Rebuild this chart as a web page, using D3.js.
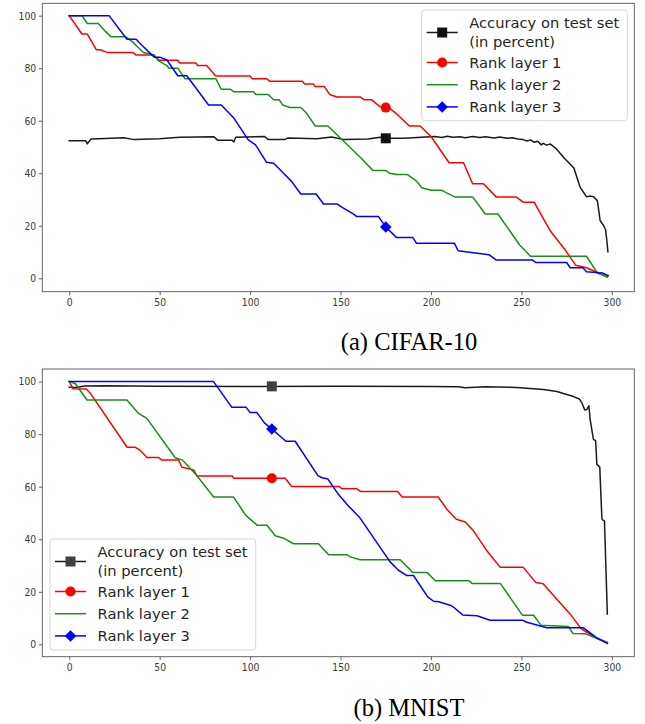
<!DOCTYPE html>
<html><head><meta charset="utf-8">
<script src="https://cdn.jsdelivr.net/npm/d3@7"></script>
<style>
body{margin:0;background:#fff;}
svg{display:block;}
</style></head><body>
<svg id="chart" width="645" height="724"></svg>
<script>
// ---------- DATA ----------
const xTicks = [0, 50, 100, 150, 200, 250, 300];
const yTicks = [0, 20, 40, 60, 80, 100];
const captions = ["(a) CIFAR-10", "(b) MNIST"];
const legendLabels = [["Accuracy on test set", "(in percent)"], ["Rank layer 1"], ["Rank layer 2"], ["Rank layer 3"]];

// CIFAR-10 panel
const cifarAccX = [0, 9, 10, 12, 20, 30, 36, 50, 61, 80, 82, 90, 91, 92, 108, 110, 119, 121, 137, 145, 152, 165, 172, 175, 185, 202, 206, 209, 212, 216, 219, 223, 227, 230, 235, 238, 242, 245, 248, 251, 253, 255, 257, 259, 261, 262, 264, 266, 269, 274, 279, 282.5, 286, 288, 290, 292, 293.5, 295.5, 296.5, 297.2, 297.8];
const cifarAccY = [52.4, 52.4, 51.2, 53, 53.2, 53.5, 52.8, 53.1, 53.7, 53.9, 52.6, 52.6, 51.9, 53.7, 54, 52.8, 52.8, 53.4, 53.1, 53.8, 52.8, 53, 53.7, 53.3, 53.3, 54, 53.6, 54.1, 53.7, 53.9, 53.5, 54, 53.6, 53.9, 53.4, 53.8, 53.3, 53.5, 53, 52.8, 52.3, 52.7, 51.8, 52.2, 50.8, 51.4, 50.7, 51.1, 49.5, 45.5, 42, 34.6, 31, 31.3, 31, 29.5, 22, 20, 18.5, 14.5, 10.1];
const cifarRank1X = [0, 7, 10, 15, 17, 21, 35, 37, 46, 48, 50, 60, 61, 70, 71, 76, 81, 100, 101, 109, 111, 129, 130, 135, 136, 141, 144, 148, 161, 163, 167, 172, 177, 182, 188, 194, 200, 210, 218, 223, 229, 236, 247, 251, 257, 266, 274, 280, 286, 291, 297.5];
const cifarRank1Y = [100, 93, 93, 87, 87, 86, 86, 85, 85, 84, 83, 83, 82, 82, 81, 81, 77, 77, 76, 76, 75, 75, 74, 74, 73, 73, 70, 69, 69, 68, 68, 65.3, 64.8, 62, 58, 58, 54, 44, 44, 36, 36, 31, 31, 29, 29, 18, 11, 5, 4, 2.5, 0.5];
const cifarRank2X = [0, 7, 10, 16, 20, 23, 31, 35, 38, 41, 47, 49, 54, 55, 60, 64, 81, 84, 89, 91, 102, 103, 110, 113, 116, 118, 122, 128, 131, 136, 143, 149, 155, 161, 168, 175, 177, 181, 187, 192, 195, 200, 206, 213, 223, 230, 237, 249, 255, 286, 292, 297.5];
const cifarRank2Y = [100, 100, 97, 97, 94, 92, 92, 90, 88, 86, 85, 83, 81, 80, 80, 76, 76, 72, 72, 71, 71, 70, 70, 68, 68, 66, 65, 65, 63, 58, 58, 54, 50, 46, 41, 41, 40, 39.5, 39.5, 37, 34.5, 33.5, 33.5, 31, 31, 24.5, 24.5, 12.7, 8.4, 8.4, 2, 0.5];
const cifarRank3X = [0, 22, 30, 32, 37, 39, 47, 50, 54, 60, 65, 77, 84, 91, 99, 103, 109, 113, 118.5, 123, 128, 136.5, 140.6, 148, 151.6, 157, 159, 171, 175, 181, 190, 192, 213, 215, 232, 236, 256, 258, 275, 277, 284, 286, 295, 298];
const cifarRank3Y = [100, 100, 92.7, 91, 91, 89.5, 84.2, 84.2, 83.1, 77.1, 77.1, 66, 66, 61, 52.7, 50.8, 44.2, 43.8, 40, 36.8, 32.1, 32.1, 28.3, 28.3, 26.7, 24.5, 23.5, 23.5, 19.5, 15.5, 15.5, 13.3, 13.3, 10.5, 9, 7, 7, 6, 6, 4, 4, 2.5, 2, 1];
const cifarMarkerX = 175;
const cifarMarkerY = [53.3, 65, null, 19.5];

// MNIST panel
const mnistAccX = [0, 3.6, 8.8, 20, 50, 100, 150, 200, 215, 219, 230, 247.5, 262.2, 269.6, 273.2, 278.8, 282, 283.5, 285, 286.2, 287.3, 288, 289.8, 291, 291.7, 293.3, 294.5, 295.2, 295.9, 297.5];
const mnistAccY = [97.9, 97.8, 98.3, 98.4, 98.2, 98.1, 98.2, 98.1, 98, 97.7, 98, 97.8, 97, 96.2, 95.5, 94.3, 93.4, 91.8, 89.2, 89.4, 90.8, 85.5, 78, 77.5, 68.5, 67.5, 47.7, 47.2, 47, 11.5];
const mnistRank1X = [0, 2, 9.4, 11.6, 32, 36.5, 39, 43, 49.4, 51, 60.4, 62.3, 68.7, 70.6, 90, 91, 119.4, 123, 149, 150.7, 159, 161, 181.5, 184, 204, 209, 214, 219, 223.5, 231, 238.3, 251, 258, 262, 269.6, 277, 283, 286, 290, 297.5];
const mnistRank1Y = [100, 97.3, 97.2, 95.6, 75, 75, 74, 71.1, 71.1, 70.2, 70.2, 67.4, 66.4, 64.1, 64.1, 63.2, 63.2, 60.1, 60.1, 59.3, 59.2, 58.2, 58.2, 56.1, 56.1, 51.2, 47.6, 46.6, 43.2, 35.5, 29.3, 29.3, 23.5, 23.1, 17.2, 11.5, 6, 4.7, 2.9, 0.7];
const mnistRank2X = [0, 3.3, 9.8, 31.9, 38.3, 42.9, 58.6, 62.3, 63.2, 70.6, 79.8, 90.8, 97.5, 104, 109.3, 113.9, 118.5, 124, 137.8, 143.4, 153.7, 155.3, 160.9, 183, 190, 198, 202.3, 221, 222.6, 238.3, 250.5, 256.7, 260.8, 276, 278.5, 285.5, 291.7, 297.5];
const mnistRank2Y = [100, 99.3, 93, 93, 87.9, 86, 71, 70.2, 69.7, 64.2, 56.1, 56.1, 49.2, 45.3, 45.3, 41.3, 40.4, 38.3, 38.3, 34.1, 34.1, 33.3, 32.2, 32.2, 27.3, 27.3, 24.2, 24.2, 23.2, 23.2, 11.1, 11.1, 7.3, 6.8, 4.1, 4, 2.2, 0.6];
const mnistRank3X = [0, 79.8, 89.9, 97.8, 100, 103.8, 108, 112, 116.6, 119.8, 124.9, 137.5, 139.7, 143, 148.9, 153.5, 160.5, 177.4, 182, 186.7, 190.3, 198.2, 201.4, 204.2, 210.6, 212.4, 217.5, 225.4, 232.7, 250.6, 252.5, 264, 284.3, 291.7, 297.5];
const mnistRank3Y = [100, 100, 90.2, 90.2, 88.2, 88.2, 84.2, 82, 79.2, 77.3, 77.3, 64.2, 63.4, 62.9, 57, 53.3, 48.3, 31.4, 28.2, 26.2, 26.2, 18.1, 16.4, 16.2, 14.9, 14.2, 11.2, 10.9, 9.2, 9.2, 8.5, 6.3, 6.3, 2.5, 0.3];
const mnistMarkerX = 112;
const mnistMarkerY = [98.2, 63.2, null, 82];

// ---------- STYLE / LAYOUT ----------
const lineColors = ["#1a1a1a", "#ff0000", "#1c8c1c", "#0000ff"];
const markerTypes = ["square", "circle", null, "diamond"];
const L = 42.3, R = 634.3;
const xDomain = [-14.9, 312.4];

const panels = [
  { top: 3.3, bottom: 291.7, yDomain: [-5.1, 104.7],
    series: [[cifarAccX, cifarAccY], [cifarRank1X, cifarRank1Y], [cifarRank2X, cifarRank2Y], [cifarRank3X, cifarRank3Y]],
    markerX: cifarMarkerX, markerY: cifarMarkerY, accMarkerColor: "#111",
    legend: { x: 421.7, y: 10, w: 205.6, h: 110.7 },
    caption: captions[0], capY: 350 },
  { top: 369, bottom: 656.7, yDomain: [-4.7, 104.8],
    series: [[mnistAccX, mnistAccY], [mnistRank1X, mnistRank1Y], [mnistRank2X, mnistRank2Y], [mnistRank3X, mnistRank3Y]],
    markerX: mnistMarkerX, markerY: mnistMarkerY, accMarkerColor: "#404040",
    legend: { x: 50, y: 539, w: 205.7, h: 111 },
    caption: captions[1], capY: 716 }
];

const svg = d3.select("#chart");

function markerPath(type) {
  if (type === "square") return d3.symbol(d3.symbolSquare, 100)();
  if (type === "circle") return d3.symbol(d3.symbolCircle, 80)();
  if (type === "diamond") return d3.symbol(d3.symbolSquare, 66)();
  return null;
}
function drawMarker(g, type, cx, cy, color) {
  const p = g.append("path").attr("d", markerPath(type)).attr("fill", color)
    .attr("transform", `translate(${cx},${cy})` + (type === "diamond" ? " rotate(45)" : ""));
  return p;
}

panels.forEach(pn => {
  const g = svg.append("g");
  const x = d3.scaleLinear().domain(xDomain).range([L, R]);
  const y = d3.scaleLinear().domain(pn.yDomain).range([pn.bottom, pn.top]);

  // lines
  pn.series.forEach((s, si) => {
    const [xs, ys] = s;
    const line = d3.line().x(i => x(xs[i])).y(i => y(ys[i]));
    g.append("path").attr("d", line(d3.range(xs.length)))
      .attr("fill", "none").attr("stroke", lineColors[si])
      .attr("stroke-width", 1.5).attr("stroke-linejoin", "round").attr("stroke-linecap", "square");
  });
  // markers
  pn.markerY.forEach((v, si) => {
    if (v == null) return;
    const col = si === 0 ? pn.accMarkerColor : lineColors[si];
    drawMarker(g, markerTypes[si], x(pn.markerX), y(v), col);
  });

  // axes
  const xa = g.append("g").attr("transform", `translate(0,${pn.bottom})`)
    .call(d3.axisBottom(x).tickValues(xTicks).tickSize(3.5).tickPadding(3.5).tickSizeOuter(0));
  const ya = g.append("g").attr("transform", `translate(${L},0)`)
    .call(d3.axisLeft(y).tickValues(yTicks).tickSize(3.5).tickPadding(3.5).tickSizeOuter(0));
  [xa, ya].forEach(a => {
    a.select(".domain").remove();
    a.selectAll("line").attr("stroke", "#555").attr("stroke-width", 0.9);
    a.selectAll("text").attr("fill", "#3a3a3a").style("font-family", "DejaVu Sans")
      .style("font-size", "10.5px").attr("transform", "scale(0.88,1)");
  });
  // frame
  g.append("rect").attr("x", L).attr("y", pn.top).attr("width", R - L).attr("height", pn.bottom - pn.top)
    .attr("fill", "none").attr("stroke", "#555").attr("stroke-width", 0.9);

  // legend
  const lg = pn.legend;
  const leg = g.append("g").attr("transform", `translate(${lg.x},${lg.y})`);
  leg.append("rect").attr("width", lg.w).attr("height", lg.h).attr("rx", 3)
    .attr("fill", "#fff").attr("fill-opacity", 0.85).attr("stroke", "#d6d6d6").attr("stroke-width", 1);
  const rowsY = [22.5, 52.5, 74.7, 96.9];
  legendLabels.forEach((lab, si) => {
    const cy = rowsY[si];
    leg.append("line").attr("x1", 5).attr("x2", 36).attr("y1", cy).attr("y2", cy)
      .attr("stroke", lineColors[si]).attr("stroke-width", 1.5);
    if (markerTypes[si]) {
      const col = si === 0 ? pn.accMarkerColor : lineColors[si];
      drawMarker(leg, markerTypes[si], 20.5, cy, col);
    }
    const t = leg.append("text").attr("x", 47.5).attr("y", lab.length === 2 ? cy - 9.5 : cy)
      .attr("dy", "0.36em").attr("fill", "#262626")
      .style("font-family", "DejaVu Sans").style("font-size", "14.7px");
    lab.forEach((line, li) => {
      t.append("tspan").attr("x", 47.5).attr("dy", li === 0 ? "0.36em" : "19px").text(line);
    });
    t.attr("dy", null);
  });

  // caption
  svg.append("text").attr("x", 409).attr("y", pn.capY).attr("text-anchor", "middle")
    .style("font-family", "Liberation Serif").style("font-size", "24.5px").attr("fill", "#000")
    .text(pn.caption);
});
</script>
</body></html>
